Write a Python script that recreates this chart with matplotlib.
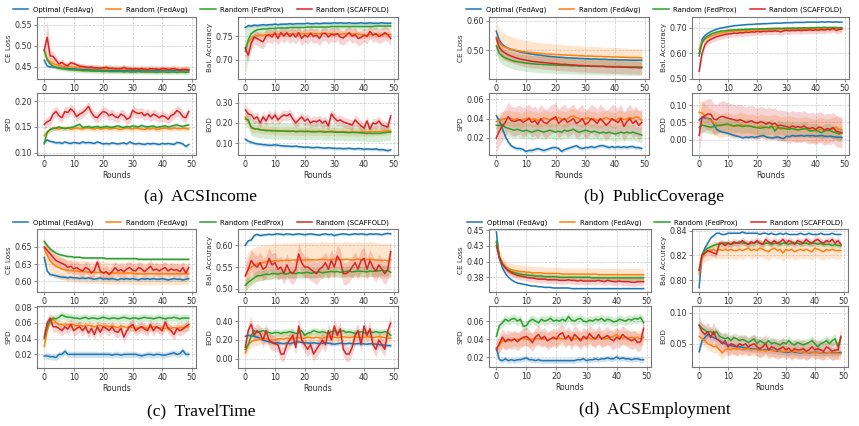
import numpy as np
import matplotlib.pyplot as plt
from matplotlib.ticker import FixedLocator, FixedFormatter

rounds = np.arange(50)
series_labels = ['Optimal (FedAvg)', 'Random (FedAvg)', 'Random (FedProx)', 'Random (SCAFFOLD)']
colors = ['tab:blue', 'tab:orange', 'tab:green', 'tab:red']

# ---------------- (a) ACSIncome ----------------
inc_loss_opt = [0.466,0.452,0.450,0.450,0.449,0.448,0.447,0.447,0.446,0.446,0.446,0.445,0.445,0.444,0.444,0.444,0.443,0.443,0.443,0.443,0.442,0.442,0.442,0.442,0.442,0.442,0.442,0.441,0.442,0.442,0.441,0.441,0.442,0.441,0.441,0.441,0.442,0.441,0.441,0.441,0.441,0.442,0.441,0.441,0.441,0.442,0.441,0.441,0.442,0.442]
inc_loss_rfa = [0.490,0.470,0.462,0.458,0.455,0.453,0.452,0.451,0.450,0.450,0.449,0.449,0.448,0.448,0.447,0.447,0.447,0.446,0.446,0.446,0.446,0.445,0.446,0.445,0.445,0.445,0.445,0.445,0.445,0.444,0.445,0.444,0.444,0.445,0.444,0.444,0.444,0.444,0.445,0.444,0.444,0.444,0.444,0.444,0.445,0.444,0.444,0.444,0.444,0.445]
inc_loss_rfp = [0.488,0.466,0.457,0.452,0.449,0.447,0.446,0.445,0.444,0.443,0.443,0.442,0.442,0.441,0.441,0.441,0.440,0.440,0.440,0.440,0.439,0.440,0.439,0.439,0.439,0.439,0.439,0.438,0.439,0.438,0.438,0.438,0.439,0.438,0.438,0.438,0.438,0.438,0.437,0.438,0.438,0.438,0.437,0.438,0.438,0.437,0.438,0.438,0.437,0.438]
inc_loss_rsc = [0.490,0.520,0.476,0.475,0.466,0.457,0.461,0.455,0.453,0.460,0.458,0.455,0.452,0.451,0.450,0.449,0.450,0.448,0.448,0.447,0.448,0.449,0.447,0.447,0.446,0.446,0.446,0.449,0.446,0.446,0.445,0.446,0.445,0.446,0.445,0.444,0.446,0.445,0.445,0.444,0.446,0.446,0.444,0.445,0.446,0.444,0.443,0.444,0.444,0.443]
inc_loss_rsc_sd = [0.010,0.040,0.015,0.012,0.010,0.008,0.008,0.007,0.007,0.007,
                   0.006,0.006,0.006,0.006,0.006,0.006,0.006,0.006,0.006,0.006,
                   0.006,0.006,0.006,0.006,0.006,0.006,0.006,0.006,0.006,0.006,
                   0.006,0.006,0.006,0.006,0.006,0.006,0.006,0.006,0.006,0.006,
                   0.006,0.006,0.006,0.006,0.006,0.006,0.006,0.006,0.006,0.006]

inc_acc_opt = [0.768,0.772,0.771,0.773,0.772,0.773,0.774,0.773,0.774,0.774,0.775,0.774,0.775,0.775,0.775,0.776,0.775,0.776,0.776,0.776,0.776,0.777,0.776,0.776,0.777,0.776,0.777,0.777,0.777,0.777,0.778,0.777,0.778,0.777,0.777,0.778,0.777,0.777,0.777,0.778,0.777,0.777,0.778,0.777,0.777,0.777,0.778,0.777,0.777,0.777]
inc_acc_rfa = [0.725,0.737,0.745,0.749,0.751,0.752,0.752,0.753,0.753,0.754,0.754,0.754,0.755,0.755,0.755,0.755,0.755,0.755,0.756,0.755,0.755,0.755,0.756,0.755,0.755,0.755,0.756,0.755,0.755,0.755,0.755,0.755,0.754,0.755,0.755,0.755,0.754,0.755,0.754,0.753,0.752,0.752,0.753,0.754,0.753,0.754,0.753,0.754,0.753,0.753]
inc_acc_rfp = [0.718,0.742,0.755,0.760,0.763,0.764,0.765,0.765,0.766,0.766,0.766,0.767,0.767,0.767,0.767,0.768,0.768,0.768,0.768,0.768,0.768,0.769,0.769,0.769,0.769,0.769,0.769,0.769,0.769,0.770,0.770,0.770,0.770,0.770,0.770,0.770,0.770,0.770,0.770,0.770,0.770,0.770,0.770,0.770,0.771,0.771,0.771,0.771,0.771,0.771]
inc_acc_rsc = [0.725,0.710,0.735,0.748,0.745,0.741,0.738,0.750,0.753,0.748,0.757,0.745,0.757,0.750,0.757,0.749,0.755,0.748,0.757,0.745,0.752,0.748,0.756,0.749,0.752,0.745,0.755,0.756,0.748,0.754,0.752,0.755,0.748,0.746,0.752,0.757,0.750,0.753,0.745,0.747,0.752,0.749,0.760,0.752,0.755,0.749,0.752,0.757,0.753,0.745]
inc_acc_rfp_sd = [0.050,0.035,0.020,0.015,0.012,0.010,0.009,0.008,0.008,0.008,
                  0.007,0.007,0.007,0.007,0.007,0.007,0.007,0.007,0.007,0.007,
                  0.007,0.007,0.007,0.007,0.007,0.007,0.007,0.007,0.007,0.007,
                  0.007,0.007,0.007,0.007,0.007,0.007,0.007,0.007,0.007,0.007,
                  0.007,0.007,0.007,0.007,0.007,0.007,0.007,0.007,0.007,0.007]

inc_spd_opt = [0.120,0.125,0.122,0.121,0.119,0.120,0.118,0.121,0.119,0.118,0.120,0.119,0.118,0.121,0.119,0.120,0.119,0.118,0.121,0.119,0.117,0.118,0.117,0.119,0.118,0.117,0.118,0.119,0.117,0.121,0.118,0.117,0.118,0.117,0.116,0.118,0.117,0.118,0.117,0.116,0.118,0.117,0.118,0.117,0.116,0.120,0.119,0.117,0.112,0.116]
inc_spd_rfa = [0.133,0.140,0.145,0.148,0.147,0.146,0.148,0.147,0.148,0.146,0.147,0.148,0.147,0.146,0.148,0.148,0.147,0.146,0.148,0.146,0.147,0.148,0.146,0.147,0.148,0.146,0.145,0.147,0.148,0.147,0.146,0.148,0.147,0.146,0.145,0.147,0.146,0.148,0.145,0.146,0.147,0.148,0.147,0.146,0.148,0.147,0.146,0.148,0.147,0.146]
inc_spd_rfp = [0.117,0.140,0.145,0.147,0.148,0.150,0.148,0.147,0.148,0.149,0.150,0.153,0.155,0.149,0.150,0.151,0.149,0.150,0.151,0.149,0.150,0.151,0.150,0.149,0.151,0.152,0.150,0.149,0.151,0.150,0.152,0.151,0.150,0.153,0.151,0.150,0.151,0.152,0.149,0.150,0.151,0.152,0.150,0.151,0.153,0.154,0.152,0.151,0.153,0.154]
inc_spd_rsc = [0.155,0.160,0.163,0.175,0.180,0.172,0.168,0.180,0.178,0.185,0.180,0.170,0.175,0.178,0.183,0.190,0.178,0.170,0.168,0.175,0.180,0.178,0.172,0.175,0.170,0.168,0.175,0.172,0.165,0.168,0.182,0.178,0.176,0.178,0.172,0.176,0.170,0.175,0.172,0.168,0.172,0.170,0.165,0.172,0.175,0.182,0.178,0.170,0.168,0.180]

inc_eod_opt = [0.120,0.110,0.105,0.100,0.097,0.095,0.093,0.092,0.090,0.090,0.092,0.090,0.088,0.087,0.086,0.085,0.084,0.086,0.083,0.082,0.080,0.081,0.079,0.078,0.080,0.079,0.077,0.076,0.078,0.076,0.075,0.074,0.075,0.073,0.074,0.075,0.073,0.072,0.074,0.073,0.070,0.072,0.071,0.070,0.072,0.068,0.069,0.067,0.063,0.068]
inc_eod_rfa = [0.230,0.210,0.175,0.170,0.172,0.168,0.165,0.166,0.163,0.164,0.162,0.163,0.160,0.161,0.162,0.160,0.161,0.159,0.160,0.158,0.160,0.161,0.159,0.160,0.158,0.159,0.160,0.158,0.157,0.160,0.158,0.157,0.156,0.158,0.157,0.155,0.158,0.156,0.155,0.157,0.156,0.155,0.157,0.156,0.158,0.157,0.158,0.160,0.162,0.160]
inc_eod_rfp = [0.220,0.215,0.180,0.172,0.170,0.166,0.165,0.162,0.163,0.161,0.162,0.160,0.161,0.160,0.159,0.158,0.160,0.157,0.158,0.159,0.157,0.158,0.157,0.156,0.157,0.158,0.156,0.155,0.156,0.157,0.155,0.154,0.155,0.154,0.153,0.152,0.154,0.153,0.152,0.151,0.150,0.148,0.149,0.148,0.149,0.148,0.150,0.152,0.154,0.155]
inc_eod_rsc = [0.265,0.245,0.240,0.220,0.230,0.200,0.230,0.210,0.240,0.220,0.240,0.215,0.230,0.240,0.235,0.245,0.220,0.200,0.215,0.230,0.210,0.220,0.200,0.210,0.205,0.215,0.200,0.210,0.185,0.245,0.225,0.210,0.215,0.205,0.200,0.195,0.190,0.215,0.200,0.185,0.175,0.210,0.170,0.200,0.195,0.210,0.190,0.185,0.180,0.235]

inc_loss_sd = [0.003, 0.009, 0.005, inc_loss_rsc_sd]
inc_acc_sd = [0.003, 0.007, inc_acc_rfp_sd, 0.015]
inc_spd_sd = [0.003, 0.005, 0.004, 0.010]
inc_eod_sd = [0.008, 0.020, 0.040, 0.025]

# ---------------- (b) PublicCoverage ----------------
pub_loss_opt = [0.565,0.535,0.520,0.512,0.507,0.503,0.500,0.497,0.494,0.492,0.490,0.488,0.487,0.485,0.484,0.483,0.481,0.480,0.479,0.478,0.477,0.476,0.476,0.475,0.474,0.474,0.473,0.473,0.472,0.472,0.471,0.471,0.470,0.470,0.470,0.469,0.469,0.469,0.468,0.468,0.468,0.467,0.467,0.467,0.467,0.466,0.466,0.466,0.466,0.466]
pub_loss_rfa = [0.545,0.525,0.515,0.510,0.506,0.503,0.501,0.499,0.497,0.495,0.494,0.493,0.492,0.491,0.490,0.489,0.488,0.487,0.487,0.486,0.485,0.485,0.484,0.484,0.483,0.483,0.482,0.482,0.481,0.481,0.480,0.480,0.480,0.479,0.479,0.479,0.478,0.478,0.478,0.477,0.477,0.477,0.476,0.476,0.476,0.475,0.475,0.475,0.475,0.474]
pub_loss_rfp = [0.515,0.490,0.480,0.474,0.470,0.466,0.463,0.461,0.459,0.458,0.456,0.455,0.454,0.453,0.452,0.452,0.451,0.451,0.450,0.450,0.449,0.449,0.448,0.448,0.448,0.447,0.447,0.447,0.446,0.446,0.446,0.446,0.445,0.445,0.445,0.445,0.445,0.444,0.444,0.444,0.444,0.444,0.444,0.443,0.443,0.443,0.443,0.443,0.443,0.443]
pub_loss_rsc = [0.540,0.510,0.497,0.490,0.484,0.480,0.476,0.473,0.470,0.468,0.466,0.464,0.462,0.461,0.460,0.459,0.458,0.457,0.456,0.455,0.454,0.453,0.452,0.452,0.451,0.450,0.450,0.449,0.448,0.448,0.447,0.447,0.446,0.446,0.445,0.445,0.445,0.444,0.444,0.443,0.443,0.443,0.442,0.442,0.442,0.441,0.441,0.441,0.440,0.440]
pub_loss_rfa_sd = [0.055,0.050,0.047,0.045,0.044,0.043,0.042,0.041,0.040,0.040,
                   0.039,0.039,0.038,0.038,0.037,0.037,0.037,0.036,0.036,0.036,
                   0.035,0.035,0.035,0.035,0.034,0.034,0.034,0.034,0.034,0.033,
                   0.033,0.033,0.033,0.033,0.033,0.032,0.032,0.032,0.032,0.032,
                   0.032,0.032,0.032,0.031,0.031,0.031,0.031,0.031,0.031,0.031]

pub_acc_opt = [0.600,0.655,0.670,0.678,0.685,0.690,0.694,0.698,0.700,0.702,0.704,0.706,0.708,0.709,0.710,0.711,0.712,0.713,0.713,0.714,0.715,0.715,0.716,0.716,0.717,0.717,0.718,0.718,0.718,0.719,0.720,0.720,0.720,0.721,0.721,0.721,0.721,0.722,0.722,0.722,0.722,0.722,0.723,0.722,0.723,0.723,0.722,0.723,0.722,0.722]
pub_acc_rfa = [0.615,0.645,0.655,0.662,0.668,0.672,0.676,0.679,0.681,0.683,0.685,0.686,0.687,0.688,0.688,0.689,0.690,0.690,0.691,0.691,0.692,0.692,0.692,0.693,0.693,0.693,0.694,0.694,0.694,0.694,0.695,0.695,0.695,0.695,0.696,0.695,0.696,0.696,0.696,0.696,0.697,0.696,0.697,0.696,0.697,0.697,0.696,0.697,0.697,0.696]
pub_acc_rfp = [0.590,0.640,0.660,0.668,0.675,0.680,0.683,0.686,0.688,0.689,0.690,0.691,0.692,0.692,0.693,0.693,0.694,0.694,0.695,0.695,0.695,0.696,0.696,0.696,0.697,0.697,0.697,0.698,0.697,0.698,0.698,0.698,0.699,0.698,0.699,0.699,0.700,0.699,0.700,0.700,0.700,0.701,0.700,0.702,0.700,0.701,0.700,0.701,0.700,0.700]
pub_acc_rsc = [0.530,0.600,0.635,0.648,0.655,0.660,0.665,0.668,0.671,0.674,0.676,0.677,0.679,0.678,0.681,0.680,0.683,0.682,0.684,0.683,0.686,0.684,0.686,0.685,0.687,0.686,0.688,0.687,0.684,0.688,0.690,0.688,0.690,0.689,0.691,0.689,0.691,0.690,0.692,0.690,0.692,0.691,0.693,0.691,0.694,0.692,0.698,0.690,0.693,0.695]

pub_spd_opt = [0.043,0.038,0.030,0.022,0.016,0.012,0.010,0.009,0.009,0.008,0.006,0.007,0.007,0.008,0.009,0.008,0.007,0.008,0.009,0.010,0.010,0.009,0.006,0.008,0.009,0.010,0.011,0.012,0.010,0.009,0.010,0.010,0.011,0.010,0.011,0.012,0.012,0.011,0.010,0.011,0.010,0.011,0.010,0.011,0.010,0.011,0.011,0.010,0.010,0.009]
pub_spd_rfa = [0.037,0.038,0.039,0.040,0.041,0.040,0.039,0.040,0.038,0.039,0.040,0.041,0.039,0.040,0.038,0.039,0.041,0.040,0.039,0.040,0.039,0.041,0.040,0.039,0.040,0.042,0.043,0.041,0.040,0.039,0.040,0.041,0.039,0.040,0.038,0.039,0.040,0.041,0.040,0.039,0.038,0.040,0.041,0.039,0.040,0.041,0.040,0.042,0.041,0.038]
pub_spd_rfp = [0.033,0.033,0.034,0.031,0.030,0.029,0.028,0.029,0.028,0.027,0.028,0.027,0.026,0.027,0.028,0.027,0.026,0.027,0.028,0.027,0.026,0.027,0.026,0.028,0.027,0.028,0.029,0.027,0.026,0.027,0.028,0.027,0.026,0.027,0.026,0.025,0.026,0.025,0.026,0.025,0.024,0.025,0.026,0.025,0.026,0.025,0.026,0.025,0.024,0.023]
pub_spd_rsc = [0.020,0.027,0.032,0.036,0.042,0.038,0.037,0.038,0.039,0.036,0.038,0.040,0.036,0.038,0.034,0.040,0.036,0.035,0.038,0.040,0.042,0.035,0.038,0.040,0.036,0.038,0.040,0.035,0.037,0.040,0.034,0.036,0.040,0.038,0.035,0.040,0.037,0.033,0.036,0.040,0.038,0.036,0.040,0.032,0.037,0.040,0.035,0.038,0.033,0.036]

pub_eod_opt = [0.057,0.065,0.063,0.062,0.060,0.045,0.030,0.025,0.022,0.020,0.018,0.015,0.012,0.010,0.008,0.005,0.007,0.006,0.008,0.006,0.008,0.010,0.012,0.008,0.006,0.005,0.006,0.008,0.005,0.003,0.010,0.008,0.012,0.010,0.011,0.012,0.010,0.012,0.011,0.012,0.010,0.011,0.012,0.010,0.009,0.010,0.008,0.007,0.007,0.006]
pub_eod_rfa = [0.080,0.078,0.070,0.060,0.055,0.050,0.045,0.040,0.042,0.045,0.043,0.040,0.038,0.040,0.045,0.042,0.040,0.038,0.040,0.036,0.035,0.040,0.038,0.036,0.034,0.036,0.038,0.035,0.030,0.032,0.030,0.034,0.032,0.030,0.028,0.030,0.032,0.030,0.028,0.026,0.025,0.028,0.030,0.026,0.025,0.028,0.030,0.036,0.030,0.028]
pub_eod_rfp = [0.035,0.042,0.040,0.038,0.036,0.038,0.040,0.042,0.043,0.044,0.045,0.042,0.040,0.042,0.040,0.038,0.040,0.040,0.038,0.036,0.035,0.033,0.035,0.036,0.035,0.040,0.025,0.035,0.034,0.033,0.032,0.030,0.032,0.030,0.028,0.030,0.032,0.030,0.025,0.026,0.028,0.024,0.020,0.025,0.028,0.026,0.022,0.020,0.016,0.020]
pub_eod_rsc = [0.012,0.065,0.070,0.075,0.074,0.060,0.058,0.065,0.068,0.065,0.062,0.060,0.058,0.055,0.058,0.055,0.050,0.052,0.055,0.050,0.048,0.052,0.050,0.045,0.050,0.045,0.048,0.040,0.042,0.040,0.038,0.035,0.040,0.036,0.038,0.035,0.040,0.034,0.032,0.035,0.030,0.036,0.035,0.028,0.032,0.030,0.035,0.025,0.022,0.020]

pub_loss_sd = [0.002, pub_loss_rfa_sd, 0.028, 0.022]
pub_acc_sd = [0.002, 0.010, 0.005, 0.014]
pub_spd_sd = [0.002, 0.008, 0.008, 0.015]
pub_eod_sd = [0.005, 0.035, 0.020, 0.045]

# ---------------- (c) TravelTime ----------------
trv_loss_opt = [0.635,0.615,0.610,0.609,0.608,0.607,0.606,0.606,0.605,0.606,0.605,0.605,0.604,0.605,0.604,0.605,0.604,0.603,0.604,0.605,0.603,0.604,0.603,0.604,0.603,0.602,0.604,0.603,0.604,0.603,0.604,0.603,0.602,0.604,0.603,0.604,0.603,0.604,0.603,0.603,0.604,0.603,0.602,0.603,0.604,0.603,0.603,0.602,0.603,0.604]
trv_loss_rfa = [0.648,0.638,0.630,0.625,0.622,0.620,0.618,0.617,0.616,0.616,0.615,0.615,0.614,0.614,0.614,0.613,0.613,0.613,0.613,0.613,0.613,0.612,0.612,0.612,0.612,0.612,0.612,0.612,0.612,0.612,0.612,0.611,0.611,0.611,0.611,0.611,0.611,0.611,0.611,0.611,0.611,0.611,0.611,0.611,0.611,0.611,0.611,0.611,0.611,0.611]
trv_loss_rfp = [0.658,0.652,0.647,0.644,0.641,0.639,0.638,0.637,0.636,0.636,0.635,0.635,0.635,0.634,0.634,0.634,0.634,0.634,0.634,0.634,0.634,0.633,0.633,0.633,0.633,0.633,0.633,0.633,0.633,0.633,0.633,0.633,0.632,0.632,0.632,0.632,0.632,0.632,0.632,0.632,0.632,0.632,0.632,0.632,0.632,0.632,0.632,0.632,0.632,0.632]
trv_loss_rsc = [0.650,0.645,0.640,0.635,0.630,0.628,0.626,0.624,0.620,0.622,0.618,0.620,0.617,0.615,0.620,0.618,0.612,0.616,0.628,0.615,0.612,0.614,0.610,0.614,0.620,0.615,0.617,0.614,0.618,0.620,0.616,0.615,0.620,0.618,0.614,0.618,0.622,0.616,0.618,0.615,0.618,0.620,0.615,0.618,0.616,0.617,0.614,0.620,0.612,0.620]

trv_acc_opt = [0.600,0.610,0.612,0.622,0.625,0.622,0.623,0.624,0.625,0.624,0.625,0.626,0.625,0.624,0.626,0.625,0.624,0.625,0.626,0.625,0.624,0.625,0.626,0.625,0.624,0.623,0.625,0.626,0.624,0.625,0.622,0.624,0.625,0.626,0.625,0.624,0.625,0.626,0.625,0.626,0.625,0.624,0.626,0.625,0.626,0.625,0.624,0.626,0.627,0.626]
trv_acc_rfa = [0.530,0.545,0.550,0.555,0.557,0.560,0.560,0.562,0.562,0.563,0.565,0.564,0.565,0.565,0.566,0.565,0.566,0.566,0.567,0.566,0.566,0.567,0.566,0.567,0.566,0.567,0.568,0.567,0.566,0.567,0.568,0.567,0.566,0.567,0.568,0.567,0.566,0.567,0.568,0.567,0.566,0.567,0.568,0.567,0.566,0.566,0.565,0.566,0.564,0.567]
trv_acc_rfp = [0.508,0.515,0.520,0.525,0.530,0.530,0.532,0.534,0.533,0.535,0.535,0.534,0.536,0.535,0.534,0.537,0.536,0.535,0.537,0.536,0.537,0.538,0.536,0.537,0.538,0.539,0.537,0.538,0.539,0.540,0.539,0.540,0.538,0.539,0.540,0.541,0.539,0.540,0.541,0.540,0.540,0.539,0.541,0.540,0.542,0.541,0.543,0.541,0.542,0.538]
trv_acc_rsc = [0.530,0.545,0.565,0.555,0.550,0.560,0.545,0.550,0.570,0.555,0.560,0.545,0.550,0.535,0.555,0.540,0.535,0.545,0.580,0.560,0.550,0.550,0.545,0.540,0.535,0.545,0.550,0.560,0.545,0.565,0.550,0.575,0.565,0.535,0.535,0.540,0.550,0.560,0.545,0.565,0.570,0.545,0.565,0.550,0.540,0.555,0.545,0.535,0.545,0.585]

trv_spd_opt = [0.018,0.018,0.017,0.017,0.016,0.020,0.020,0.024,0.020,0.020,0.020,0.020,0.020,0.020,0.020,0.020,0.020,0.020,0.020,0.020,0.020,0.020,0.020,0.019,0.020,0.020,0.019,0.020,0.020,0.020,0.020,0.020,0.019,0.018,0.019,0.020,0.020,0.019,0.020,0.020,0.019,0.019,0.020,0.021,0.022,0.020,0.021,0.025,0.020,0.020]
trv_spd_rfa = [0.030,0.050,0.062,0.065,0.060,0.058,0.058,0.057,0.058,0.057,0.058,0.056,0.057,0.056,0.056,0.057,0.056,0.055,0.056,0.057,0.055,0.056,0.055,0.056,0.055,0.054,0.056,0.055,0.054,0.055,0.054,0.053,0.054,0.055,0.054,0.053,0.054,0.055,0.054,0.053,0.054,0.053,0.054,0.053,0.054,0.053,0.054,0.054,0.055,0.055]
trv_spd_rfp = [0.040,0.055,0.063,0.066,0.065,0.067,0.070,0.068,0.067,0.067,0.066,0.066,0.065,0.066,0.067,0.065,0.066,0.066,0.065,0.066,0.067,0.066,0.065,0.066,0.066,0.065,0.066,0.067,0.066,0.065,0.066,0.066,0.065,0.066,0.067,0.066,0.066,0.065,0.066,0.067,0.066,0.065,0.066,0.066,0.067,0.066,0.065,0.066,0.066,0.066]
trv_spd_rsc = [0.042,0.060,0.066,0.055,0.055,0.053,0.050,0.055,0.052,0.058,0.050,0.053,0.055,0.050,0.055,0.047,0.053,0.045,0.055,0.048,0.055,0.053,0.050,0.055,0.049,0.048,0.053,0.042,0.050,0.055,0.058,0.050,0.053,0.055,0.052,0.050,0.058,0.050,0.055,0.053,0.050,0.061,0.053,0.050,0.045,0.053,0.050,0.052,0.055,0.058]

trv_eod_opt = [0.240,0.250,0.245,0.240,0.230,0.220,0.200,0.190,0.180,0.175,0.170,0.170,0.165,0.160,0.170,0.160,0.170,0.175,0.180,0.175,0.170,0.168,0.165,0.170,0.165,0.160,0.165,0.170,0.165,0.160,0.155,0.160,0.165,0.162,0.160,0.165,0.160,0.158,0.162,0.160,0.158,0.155,0.160,0.158,0.155,0.150,0.148,0.145,0.140,0.140]
trv_eod_rfa = [0.060,0.150,0.180,0.200,0.200,0.210,0.220,0.210,0.210,0.200,0.200,0.210,0.215,0.210,0.220,0.215,0.210,0.220,0.225,0.215,0.220,0.230,0.225,0.220,0.230,0.225,0.220,0.230,0.235,0.225,0.230,0.225,0.230,0.235,0.230,0.225,0.230,0.235,0.230,0.225,0.230,0.235,0.230,0.225,0.230,0.235,0.230,0.225,0.220,0.220]
trv_eod_rfp = [0.100,0.150,0.250,0.300,0.280,0.290,0.300,0.290,0.280,0.270,0.280,0.280,0.270,0.280,0.280,0.290,0.280,0.270,0.280,0.300,0.250,0.270,0.280,0.300,0.290,0.280,0.290,0.280,0.270,0.290,0.300,0.280,0.290,0.300,0.280,0.290,0.280,0.270,0.280,0.290,0.280,0.270,0.290,0.280,0.290,0.280,0.280,0.290,0.280,0.250]
trv_eod_rsc = [0.12,0.30,0.37,0.25,0.30,0.27,0.20,0.30,0.20,0.17,0.16,0.15,0.05,0.05,0.15,0.20,0.25,0.12,0.35,0.20,0.15,0.10,0.15,0.05,0.10,0.15,0.20,0.15,0.30,0.20,0.35,0.25,0.32,0.10,0.05,0.05,0.12,0.25,0.30,0.15,0.35,0.25,0.32,0.15,0.10,0.20,0.15,0.10,0.30,0.38]

trv_loss_sd = [0.003, 0.016, 0.002, 0.009]
trv_acc_sd = [0.003, 0.040, 0.012, 0.025]
trv_spd_sd = [0.004, 0.005, 0.005, 0.007]
trv_eod_sd = [0.020, 0.060, 0.040, 0.080]

# ---------------- (d) ACSEmployment ----------------
emp_loss_opt = [0.447,0.405,0.390,0.381,0.375,0.371,0.368,0.366,0.365,0.364,0.363,0.362,0.361,0.361,0.360,0.360,0.359,0.359,0.359,0.358,0.358,0.358,0.358,0.358,0.358,0.357,0.357,0.357,0.357,0.357,0.357,0.357,0.357,0.357,0.357,0.357,0.357,0.357,0.357,0.357,0.357,0.357,0.357,0.357,0.357,0.357,0.357,0.357,0.357,0.357]
emp_loss_rfa = [0.430,0.408,0.398,0.392,0.389,0.387,0.386,0.385,0.384,0.384,0.383,0.383,0.382,0.382,0.382,0.382,0.381,0.381,0.381,0.381,0.381,0.381,0.380,0.380,0.380,0.380,0.380,0.380,0.380,0.380,0.380,0.380,0.380,0.380,0.379,0.379,0.379,0.379,0.379,0.379,0.379,0.379,0.379,0.379,0.379,0.379,0.379,0.379,0.379,0.379]
emp_loss_rfp = [0.432,0.408,0.396,0.390,0.386,0.384,0.382,0.381,0.380,0.379,0.379,0.378,0.378,0.377,0.377,0.377,0.376,0.376,0.376,0.376,0.376,0.375,0.375,0.375,0.375,0.375,0.375,0.375,0.375,0.375,0.375,0.375,0.374,0.374,0.374,0.374,0.374,0.374,0.374,0.374,0.374,0.374,0.374,0.374,0.374,0.374,0.374,0.374,0.374,0.374]
emp_loss_rsc = [0.425,0.405,0.396,0.390,0.385,0.382,0.380,0.378,0.377,0.376,0.375,0.374,0.374,0.373,0.372,0.372,0.372,0.371,0.371,0.371,0.371,0.370,0.370,0.370,0.371,0.370,0.370,0.369,0.370,0.369,0.369,0.369,0.369,0.369,0.370,0.369,0.368,0.370,0.369,0.368,0.368,0.369,0.368,0.368,0.368,0.367,0.367,0.368,0.368,0.368]

emp_acc_opt = [0.794,0.820,0.826,0.830,0.834,0.836,0.838,0.838,0.837,0.837,0.838,0.838,0.838,0.838,0.838,0.839,0.838,0.838,0.838,0.838,0.838,0.837,0.838,0.838,0.837,0.838,0.837,0.837,0.838,0.837,0.838,0.837,0.837,0.837,0.837,0.838,0.837,0.837,0.838,0.837,0.837,0.837,0.838,0.837,0.837,0.837,0.838,0.837,0.837,0.837]
emp_acc_rfa = [0.805,0.818,0.822,0.823,0.824,0.825,0.824,0.825,0.824,0.825,0.824,0.825,0.824,0.824,0.825,0.824,0.825,0.826,0.824,0.825,0.824,0.826,0.825,0.824,0.823,0.825,0.826,0.824,0.825,0.822,0.825,0.824,0.825,0.823,0.824,0.825,0.824,0.825,0.824,0.823,0.826,0.825,0.824,0.823,0.825,0.824,0.825,0.824,0.824,0.824]
emp_acc_rfp = [0.808,0.821,0.824,0.826,0.827,0.828,0.829,0.829,0.830,0.830,0.830,0.829,0.830,0.830,0.831,0.830,0.830,0.829,0.830,0.830,0.831,0.830,0.829,0.830,0.830,0.829,0.830,0.830,0.829,0.830,0.830,0.829,0.830,0.830,0.830,0.829,0.830,0.830,0.829,0.830,0.830,0.829,0.830,0.829,0.829,0.829,0.828,0.829,0.828,0.828]
emp_acc_rsc = [0.808,0.820,0.822,0.824,0.823,0.822,0.821,0.830,0.830,0.828,0.830,0.829,0.831,0.830,0.830,0.832,0.830,0.829,0.831,0.830,0.832,0.830,0.829,0.833,0.831,0.830,0.832,0.830,0.831,0.833,0.830,0.832,0.831,0.829,0.832,0.831,0.830,0.833,0.831,0.830,0.832,0.833,0.831,0.830,0.832,0.831,0.833,0.830,0.832,0.829]

emp_spd_opt = [0.030,0.017,0.016,0.018,0.016,0.017,0.016,0.017,0.017,0.018,0.019,0.017,0.017,0.016,0.017,0.016,0.016,0.016,0.016,0.016,0.016,0.016,0.016,0.016,0.016,0.016,0.016,0.017,0.017,0.018,0.016,0.017,0.017,0.018,0.017,0.018,0.018,0.019,0.018,0.018,0.020,0.018,0.019,0.018,0.018,0.017,0.018,0.018,0.017,0.017]
emp_spd_rfa = [0.030,0.033,0.038,0.037,0.038,0.039,0.040,0.039,0.040,0.041,0.040,0.039,0.040,0.041,0.040,0.041,0.040,0.039,0.040,0.041,0.040,0.041,0.040,0.041,0.042,0.041,0.040,0.041,0.040,0.041,0.042,0.041,0.040,0.041,0.042,0.041,0.040,0.041,0.042,0.043,0.045,0.042,0.041,0.042,0.041,0.042,0.041,0.042,0.040,0.042]
emp_spd_rfp = [0.043,0.055,0.058,0.062,0.060,0.062,0.063,0.060,0.062,0.054,0.055,0.060,0.062,0.060,0.058,0.062,0.060,0.061,0.063,0.060,0.061,0.060,0.062,0.060,0.065,0.061,0.060,0.062,0.063,0.060,0.059,0.061,0.060,0.062,0.061,0.063,0.060,0.062,0.061,0.059,0.060,0.062,0.061,0.060,0.062,0.061,0.063,0.062,0.064,0.058]
emp_spd_rsc = [0.028,0.035,0.042,0.037,0.040,0.038,0.040,0.037,0.040,0.042,0.043,0.040,0.036,0.042,0.045,0.040,0.043,0.038,0.040,0.042,0.040,0.045,0.047,0.040,0.044,0.038,0.045,0.042,0.038,0.043,0.040,0.046,0.042,0.040,0.045,0.040,0.042,0.044,0.040,0.038,0.042,0.040,0.045,0.042,0.040,0.038,0.040,0.036,0.037,0.052]

emp_eod_opt = [0.037,0.055,0.060,0.065,0.062,0.060,0.058,0.055,0.052,0.050,0.048,0.047,0.046,0.045,0.045,0.044,0.043,0.043,0.042,0.042,0.041,0.041,0.040,0.040,0.040,0.040,0.039,0.038,0.038,0.037,0.036,0.036,0.037,0.036,0.036,0.035,0.036,0.036,0.035,0.036,0.036,0.036,0.035,0.036,0.035,0.036,0.035,0.036,0.035,0.036]
emp_eod_rfa = [0.062,0.058,0.055,0.050,0.048,0.045,0.046,0.040,0.035,0.040,0.042,0.040,0.043,0.041,0.042,0.040,0.041,0.042,0.040,0.041,0.040,0.039,0.040,0.038,0.040,0.039,0.038,0.040,0.037,0.038,0.037,0.038,0.036,0.038,0.037,0.036,0.037,0.035,0.036,0.037,0.035,0.036,0.035,0.034,0.035,0.036,0.034,0.035,0.034,0.034]
emp_eod_rfp = [0.080,0.075,0.072,0.068,0.070,0.065,0.070,0.062,0.060,0.058,0.060,0.055,0.060,0.058,0.055,0.057,0.055,0.052,0.055,0.058,0.050,0.055,0.052,0.050,0.055,0.050,0.052,0.050,0.048,0.052,0.050,0.055,0.050,0.048,0.052,0.050,0.048,0.050,0.052,0.055,0.050,0.045,0.050,0.052,0.055,0.050,0.055,0.058,0.045,0.060]
emp_eod_rsc = [0.080,0.070,0.065,0.070,0.060,0.070,0.058,0.055,0.050,0.055,0.045,0.050,0.048,0.045,0.050,0.047,0.050,0.045,0.048,0.050,0.045,0.042,0.045,0.050,0.040,0.045,0.043,0.040,0.042,0.045,0.040,0.043,0.038,0.042,0.040,0.040,0.042,0.038,0.040,0.045,0.040,0.042,0.040,0.038,0.045,0.042,0.038,0.040,0.040,0.062]

emp_loss_sd = [0.001, 0.010, 0.004, 0.006]
emp_acc_sd = [0.0006, 0.007, 0.002, 0.003]
emp_spd_sd = [0.003, 0.008, 0.005, 0.010]
emp_eod_sd = [0.005, 0.010, 0.008, 0.015]

W, H = 859, 426
fig = plt.figure(figsize=(W / 100, H / 100), dpi=100)


def add_ax(l, t, r, b):
    # pixel box -> figure fraction
    return fig.add_axes([l / W, 1 - b / H, (r - l) / W, (b - t) / H])


def draw(ax, series, sds, ylabel, ylim, yticks, ytick_labels=None, xlabel=False):
    for m, sd, c, lab in zip(series, sds, colors, series_labels):
        m = np.asarray(m)
        sd = np.asarray(sd)
        ax.fill_between(rounds, m - sd, m + sd, color=c, alpha=0.2, lw=0)
        ax.plot(rounds, m, color=c, lw=1.1, label=lab)
    ax.set_xlim(-2.45, 51.45)
    ax.set_ylim(*ylim)
    ax.set_xticks([0, 10, 20, 30, 40, 50])
    ax.yaxis.set_major_locator(FixedLocator(yticks))
    if ytick_labels is None:
        ytick_labels = ['%.2f' % v for v in yticks]
    ax.yaxis.set_major_formatter(FixedFormatter(ytick_labels))
    ax.grid(True, linestyle='--', linewidth=0.5, color='#cccccc')
    ax.set_axisbelow(True)
    for s in ax.spines.values():
        s.set_color('#777777')
        s.set_linewidth(0.8)
    ax.tick_params(labelsize=5.8, length=2, width=0.6, color='#777777', pad=1.5, labelcolor='#333333')
    ax.set_ylabel(ylabel, fontsize=5.2, labelpad=2, color='#333333')
    if xlabel:
        ax.set_xlabel('Rounds', fontsize=5.6, labelpad=1.5, color='#333333')


panels = [
    # caption, x-columns, y-rows, legend y, caption y, data
    ('(a)  ACSIncome', (37, 196, 238, 398), (17, 79, 93, 155), 10, 197, 201,
     [inc_loss_opt, inc_loss_rfa, inc_loss_rfp, inc_loss_rsc], inc_loss_sd, (0.4215, 0.568), [0.45, 0.50, 0.55], None,
     [inc_acc_opt, inc_acc_rfa, inc_acc_rfp, inc_acc_rsc], inc_acc_sd, (0.66, 0.79), [0.70, 0.75], None,
     [inc_spd_opt, inc_spd_rfa, inc_spd_rfp, inc_spd_rsc], inc_spd_sd, (0.0955, 0.216), [0.10, 0.15, 0.20], None,
     [inc_eod_opt, inc_eod_rfa, inc_eod_rfp, inc_eod_rsc], inc_eod_sd, (0.042, 0.348), [0.10, 0.20, 0.30], None),
    ('(b)  PublicCoverage', (489, 649, 692, 849), (17, 79, 93, 155), 10, 197, 654,
     [pub_loss_opt, pub_loss_rfa, pub_loss_rfp, pub_loss_rsc], pub_loss_sd, (0.402, 0.613), [0.50, 0.60], None,
     [pub_acc_opt, pub_acc_rfa, pub_acc_rfp, pub_acc_rsc], pub_acc_sd, (0.50, 0.742), [0.50, 0.60, 0.70], None,
     [pub_spd_opt, pub_spd_rfa, pub_spd_rfp, pub_spd_rsc], pub_spd_sd, (0.0023, 0.0666), [0.02, 0.04, 0.06], None,
     [pub_eod_opt, pub_eod_rfa, pub_eod_rfp, pub_eod_rsc], pub_eod_sd, (-0.045, 0.136), [0.00, 0.05, 0.10], None),
    ('(c)  TravelTime', (37, 196, 238, 398), (229, 292, 306, 368), 223, 411, 201,
     [trv_loss_opt, trv_loss_rfa, trv_loss_rfp, trv_loss_rsc], trv_loss_sd, (0.5845, 0.676), [0.600, 0.625, 0.650], ['0.60', '0.63', '0.65'],
     [trv_acc_opt, trv_acc_rfa, trv_acc_rfp, trv_acc_rsc], trv_acc_sd, (0.493, 0.637), [0.50, 0.55, 0.60], None,
     [trv_spd_opt, trv_spd_rfa, trv_spd_rfp, trv_spd_rsc], trv_spd_sd, (0.0027, 0.0813), [0.02, 0.04, 0.06, 0.08], None,
     [trv_eod_opt, trv_eod_rfa, trv_eod_rfp, trv_eod_rsc], trv_eod_sd, (-0.1, 0.564), [0.0, 0.2, 0.4], None),
    ('(d)  ACSEmployment', (489, 651, 692, 848), (229, 292, 306, 367), 223, 410, 655,
     [emp_loss_opt, emp_loss_rfa, emp_loss_rfp, emp_loss_rsc], emp_loss_sd, (0.3516, 0.4516), [0.375, 0.400, 0.425, 0.450], ['0.38', '0.40', '0.43', '0.45'],
     [emp_acc_opt, emp_acc_rfa, emp_acc_rfp, emp_acc_rsc], emp_acc_sd, (0.7905, 0.8414), [0.80, 0.82, 0.84], None,
     [emp_spd_opt, emp_spd_rfa, emp_spd_rfp, emp_spd_rsc], emp_spd_sd, (0.0089, 0.0767), [0.02, 0.04, 0.06], None,
     [emp_eod_opt, emp_eod_rfa, emp_eod_rfp, emp_eod_rsc], emp_eod_sd, (0.0124, 0.111), [0.05, 0.10], None),
]

ylabels = ['CE Loss', 'Bal. Accuracy', 'SPD', 'EOD']

for p in panels:
    caption, xs, ys, leg_y, cap_y, cx = p[:6]
    subs = [p[6 + 5 * k: 11 + 5 * k] for k in range(4)]
    boxes = [(xs[0], ys[0], xs[1], ys[1]), (xs[2], ys[0], xs[3], ys[1]),
             (xs[0], ys[2], xs[1], ys[3]), (xs[2], ys[2], xs[3], ys[3])]
    first = None
    for k, (box, sub) in enumerate(zip(boxes, subs)):
        ax = add_ax(*box)
        series, sds, ylim, yt, ytl = sub
        draw(ax, series, sds, ylabels[k], ylim, yt, ytl, xlabel=(k >= 2))
        if first is None:
            first = ax
    handles, labs = first.get_legend_handles_labels()
    fig.legend(handles, labs, loc='center', bbox_to_anchor=(cx / W, 1 - leg_y / H), ncol=4,
               frameon=False, fontsize=5, handlelength=2.2, columnspacing=1.9, handletextpad=0.6)
    fig.text(cx / W, 1 - cap_y / H, caption, family='Liberation Serif', fontsize=12.5,
             ha='center', va='center')

fig.savefig('out.png', dpi=100)
